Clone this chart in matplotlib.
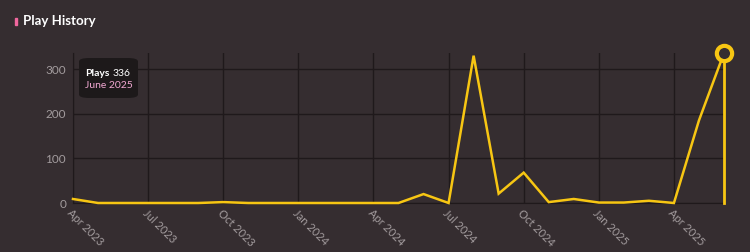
import numpy as np
import matplotlib.pyplot as plt
from matplotlib.patches import FancyBboxPatch

# monthly plays, Apr 2023 .. Jun 2025
months = ["Apr 2023", "May 2023", "Jun 2023", "Jul 2023", "Aug 2023", "Sep 2023",
          "Oct 2023", "Nov 2023", "Dec 2023", "Jan 2024", "Feb 2024", "Mar 2024",
          "Apr 2024", "May 2024", "Jun 2024", "Jul 2024", "Aug 2024", "Sep 2024",
          "Oct 2024", "Nov 2024", "Dec 2024", "Jan 2025", "Feb 2025", "Mar 2025",
          "Apr 2025", "May 2025", "Jun 2025"]
plays = [9, 0, 0, 0, 0, 0, 2, 0, 0, 0, 0, 0,
         0, 0, 20, 0, 330, 21, 68, 2, 9, 1, 1, 5,
         0, 185, 336]
tick_labels = ["Apr 2023", "Jul 2023", "Oct 2023", "Jan 2024", "Apr 2024",
               "Jul 2024", "Oct 2024", "Jan 2025", "Apr 2025"]
y_ticks = [0, 100, 200, 300]

BG = "#352d30"
GRID = "#1f191b"
LINE = "#f7c613"
TICK = "#a39c9e"

plt.rcParams["font.family"] = ["Lato", "DejaVu Sans"]

fig = plt.figure(figsize=(7.5, 2.52), dpi=100, facecolor=BG)
ax = fig.add_axes([73 / 750, 1 - 203 / 252, (724 - 73) / 750, (203 - 53) / 252])
ax.set_facecolor(BG)

x = np.arange(len(months))
ax.plot(x, plays, color=LINE, lw=1.8, solid_joinstyle="miter", zorder=3, clip_on=False)

# hover marker on last point
last = len(months) - 1
ax.plot([last, last], [0, plays[last]], color=LINE, lw=2, zorder=4, clip_on=False)
ax.plot(last, plays[last], "o", ms=11, mfc=BG, mec=LINE, mew=3, zorder=5, clip_on=False)

ax.set_xlim(0, last)
ax.set_ylim(0, max(plays))
ax.set_xticks([months.index(m) for m in tick_labels])
ax.set_xticklabels(tick_labels, rotation=-45, ha="left", va="top",
                   rotation_mode="anchor", color=TICK, fontsize=8)
ax.set_yticks(y_ticks)
ax.set_yticklabels([str(v) for v in y_ticks], color=TICK, fontsize=8.5)
ax.tick_params(axis="x", length=0, pad=3)
ax.tick_params(axis="y", length=0, pad=5)
ax.grid(True, color=GRID, lw=1)
ax.set_axisbelow(True)
for side in ["top", "right"]:
    ax.spines[side].set_visible(False)
ax.spines["left"].set_color(GRID)
ax.spines["bottom"].set_color(GRID)

# tooltip box
box = FancyBboxPatch((79 / 750, 1 - 98 / 252), 59 / 750, 40 / 252,
                     boxstyle="round,pad=0,rounding_size=0.014",
                     transform=fig.transFigure, facecolor="#1d191a",
                     edgecolor="none", zorder=10)
fig.patches.append(box)
fig.text(85 / 750, 1 - 73 / 252, "Plays", color="white", fontsize=7.5,
         fontweight="bold", va="center", zorder=11)
fig.text(113 / 750, 1 - 73 / 252, str(plays[last]), color="white", fontsize=7.5,
         va="center", zorder=11)
fig.text(85 / 750, 1 - 85 / 252, "June 2025", color="#f2a8d2", fontsize=7.5,
         va="center", zorder=11)

# title with accent bar
fig.patches.append(plt.Rectangle((15 / 750, 1 - 25 / 252), 2 / 750, 7 / 252,
                                 transform=fig.transFigure, color="#f0679e"))
fig.text(23 / 750, 1 - 21 / 252, "Play History", color="white", fontsize=9.5,
         fontweight="bold", va="center")

fig.savefig("out.png", dpi=100, facecolor=BG)
